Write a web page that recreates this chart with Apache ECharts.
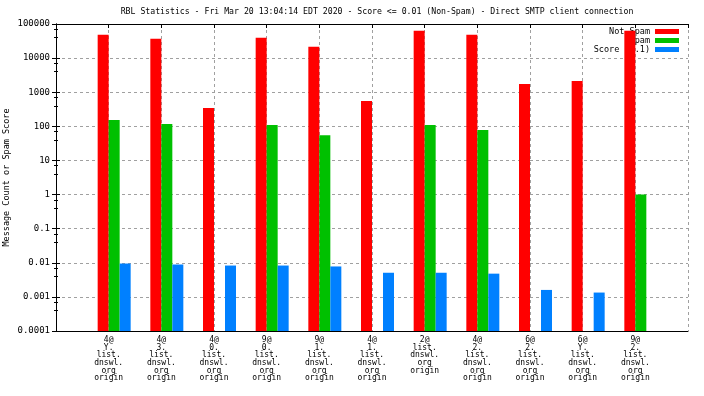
<!DOCTYPE html>
<html>
<head>
    <meta charset="utf-8">
    <title>RBL Statistics</title>
    <script src="https://cdn.jsdelivr.net/npm/echarts@6/dist/echarts.min.js"></script>
    <style>
        html, body { margin: 0; padding: 0; background: #fff; }
    </style>
</head>
<body>
<div id="main" style="width: 704px;height:396px;"></div>
<script type="text/javascript">
    // categories (one group per RBL list entry)
    var categories = [
        '4@\nY.\nlist.\ndnswl.\norg\norigin',
        '4@\n3.\nlist.\ndnswl.\norg\norigin',
        '4@\n0.\nlist.\ndnswl.\norg\norigin',
        '9@\n0.\nlist.\ndnswl.\norg\norigin',
        '9@\n1.\nlist.\ndnswl.\norg\norigin',
        '4@\n1.\nlist.\ndnswl.\norg\norigin',
        '2@\nlist.\ndnswl.\norg\norigin',
        '4@\n2.\nlist.\ndnswl.\norg\norigin',
        '6@\n2.\nlist.\ndnswl.\norg\norigin',
        '6@\nY.\nlist.\ndnswl.\norg\norigin',
        '9@\n2.\nlist.\ndnswl.\norg\norigin'
    ];
    var notSpam = [48400, 37000, 346, 39500, 21500, 555, 63600, 48400, 1750, 2150, 63600];
    var spam = [153, 117, null, 110, 55, null, 110, 78, null, null, 1];
    var score = [0.0095, 0.0089, 0.0083, 0.0083, 0.0078, 0.0051, 0.0051, 0.0048, 0.0016, 0.00134, null];
    var yTicks = ['0.0001', '0.001', '0.01', '0.1', '1', '10', '100', '1000', '10000', '100000'];

    var monoFont = '"DejaVu Sans Mono", "Liberation Mono", monospace';

    function toPairs(values) {
        return values.map(function (v, i) {
            return [i + 1, v];
        });
    }

    function yLabel(v) {
        var idx = Math.round(Math.log10(v)) + 4;
        return yTicks[idx] !== undefined ? yTicks[idx] : '';
    }

    var chartDom = document.getElementById('main');
    var myChart = echarts.init(chartDom);

    var option = {
        animation: false,
        backgroundColor: '#fff',
        title: {
            text: 'RBL Statistics - Fri Mar 20 13:04:14 EDT 2020 - Score <= 0.01 (Non-Spam) - Direct SMTP client connection',
            left: 372,
            top: 3,
            textAlign: 'center',
            textStyle: {
                fontFamily: monoFont,
                fontSize: 8.2,
                fontWeight: 'normal',
                color: '#000'
            }
        },
        legend: {
            data: ['Not Spam', 'Spam', 'Score (0.1)'],
            orient: 'vertical',
            align: 'right',
            right: 20,
            top: 22,
            z: 1,
            itemWidth: 24,
            itemHeight: 5,
            itemGap: 0,
            icon: 'rect',
            textStyle: {
                fontFamily: monoFont,
                fontSize: 8.5,
                lineHeight: 7,
                color: '#000'
            }
        },
        grid: {
            left: 56,
            right: 16,
            top: 24,
            bottom: 65,
            outerBoundsMode: 'none'
        },
        xAxis: [
            {
                type: 'value',
                min: 0,
                max: 12,
                interval: 1,
                axisLine: { onZero: false, lineStyle: { color: '#000', width: 1 } },
                axisTick: { show: false },
                axisLabel: {
                    fontFamily: monoFont,
                    fontSize: 8,
                    lineHeight: 7.7,
                    color: '#000',
                    margin: 5,
                    showMinLabel: false,
                    showMaxLabel: false,
                    formatter: function (v) {
                        return categories[v - 1] || '';
                    }
                },
                splitLine: {
                    show: true,
                    lineStyle: { color: '#a0a0a0', type: [3, 3], width: 1 }
                }
            },
            {
                type: 'value',
                position: 'top',
                min: 0,
                max: 12,
                interval: 1,
                axisLine: { onZero: false, lineStyle: { color: '#000', width: 1 } },
                axisTick: { show: true, inside: true, length: 4, lineStyle: { color: '#000' } },
                axisLabel: { show: false },
                splitLine: { show: false }
            }
        ],
        yAxis: [
            {
                type: 'log',
                logBase: 10,
                min: 0.0001,
                max: 100000,
                startValue: 0.0001,
                name: 'Message Count or Spam Score',
                nameLocation: 'middle',
                nameGap: 45,
                nameMoveOverlap: false,
                nameTextStyle: {
                    fontFamily: monoFont,
                    fontSize: 8.5,
                    color: '#000'
                },
                axisLine: { show: true, lineStyle: { color: '#000', width: 1 } },
                axisTick: { show: true, inside: true, length: 4, lineStyle: { color: '#000' } },
                minorTick: { show: true, splitNumber: 3, length: 2, lineStyle: { color: '#000' } },
                axisLabel: {
                    fontFamily: monoFont,
                    fontSize: 9,
                    color: '#000',
                    margin: 6,
                    formatter: yLabel
                },
                splitLine: {
                    show: true,
                    lineStyle: { color: '#a0a0a0', type: [3, 3], width: 1 }
                }
            },
            {
                type: 'log',
                logBase: 10,
                min: 0.0001,
                max: 100000,
                position: 'right',
                axisLine: { show: true, lineStyle: { color: '#000', width: 1 } },
                axisTick: { show: true, inside: true, length: 4, lineStyle: { color: '#000' } },
                minorTick: { show: true, splitNumber: 3, length: 2, lineStyle: { color: '#000' } },
                axisLabel: { show: false },
                splitLine: { show: false }
            }
        ],
        series: [
            {
                // empty slot so each group sits just right of its tick
                name: 'pad',
                type: 'bar',
                barWidth: 11,
                barGap: '0%',
                data: []
            },
            {
                name: 'Not Spam',
                type: 'bar',
                barWidth: 11,
                barGap: '0%',
                z: 3,
                itemStyle: { color: '#ff0000' },
                data: toPairs(notSpam)
            },
            {
                name: 'Spam',
                type: 'bar',
                barWidth: 11,
                barGap: '0%',
                z: 3,
                itemStyle: { color: '#00c000' },
                data: toPairs(spam)
            },
            {
                name: 'Score (0.1)',
                type: 'bar',
                barWidth: 11,
                barGap: '0%',
                z: 3,
                itemStyle: { color: '#0080ff' },
                data: toPairs(score)
            }
        ]
    };

    if (option && typeof option === 'object') {
        myChart.setOption(option);
    }
</script>
</body>
</html>
